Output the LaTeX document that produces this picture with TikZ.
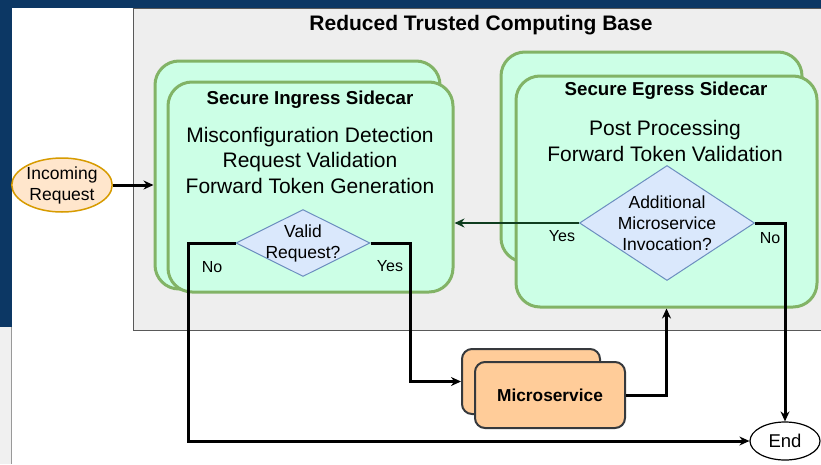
\documentclass[tikz,border=0pt]{standalone}
\usepackage{fontspec}
\setmainfont{Liberation Sans}
\usetikzlibrary{shapes.geometric,arrows.meta}
\definecolor{bgblue}{HTML}{0C3764}
\definecolor{tcbfill}{HTML}{EEEEEE}
\definecolor{sidefill}{HTML}{CCFFE6}
\definecolor{sideline}{HTML}{82B366}
\definecolor{decfill}{HTML}{DAE8FC}
\definecolor{decline}{HTML}{6C8EBF}
\definecolor{msfill}{HTML}{FFCC99}
\definecolor{msline}{HTML}{36393D}
\definecolor{infill}{HTML}{FFE6CC}
\definecolor{inline}{HTML}{D79B00}
\definecolor{yesline}{HTML}{0F3D1F}
\begin{document}
\begin{tikzpicture}[x=1pt,y=-1pt,>={Stealth[length=10pt,width=9pt]}]

      \clip (0,0) rectangle (821,464);
      \fill[white] (0,0) rectangle (821,464);
      \fill[bgblue] (0,0) rectangle (821,8);
      \fill[bgblue] (0,0) rectangle (12,327);
      \fill[gray!12] (0,327) rectangle (11,464);
      \draw[gray!80, line width=1.2pt] (11.5,327) -- (11.5,464);

      \node[draw=black!65, fill=tcbfill, line width=1pt, minimum width=697pt, minimum height=322pt] (tcb) at (481.5,169) {};

      \begin{scope}[every node/.style={draw=sideline, fill=sidefill, line width=3pt, rounded corners=24pt}]
        \node[minimum width=285pt, minimum height=228pt] (ingb) at (297.5,175) {};
        \node[minimum width=285pt, minimum height=210pt] (ing)  at (310.5,187) {};
        \node[minimum width=301pt, minimum height=210pt] (egb)  at (651.5,157) {};
        \node[minimum width=301pt, minimum height=231pt] (eg)   at (666.5,191.5) {};
      \end{scope}

      \begin{scope}[every node/.style={draw=msline, fill=msfill, line width=2pt, rounded corners=10pt}]
        \node[minimum width=138pt, minimum height=65pt] (msb) at (531,381.5) {};
        \node[minimum width=150pt, minimum height=66pt, font=\fontsize{17.3}{21}\selectfont\bfseries] (ms) at (550,395) {Microservice};
      \end{scope}

      \begin{scope}[every node/.style={diamond, draw=decline, fill=decfill, line width=1pt, inner sep=0pt}]
        \node[minimum width=134pt, minimum height=67pt] (valid) at (303,243) {};
        \node[minimum width=175pt, minimum height=115pt] (more)  at (667,223) {};
      \end{scope}

      \begin{scope}[every node/.style={align=center, font=\fontsize{17.5}{21}\selectfont}]
        \node (validtx) at (valid) {Valid\\Request?};
        \node (moretx)  at (more)  {Additional\\Microservice\\Invocation?};
      \end{scope}

      \node[ellipse, draw=inline, fill=infill, line width=1.5pt, minimum width=100pt, minimum height=54pt, inner sep=0pt, align=center, font=\fontsize{17.5}{21}\selectfont] (in) at (62,185) {Incoming\\Request};
      \node[ellipse, draw=black, fill=white, line width=1.2pt, minimum width=70pt, minimum height=38pt, inner sep=0pt, font=\fontsize{18.5}{21}\selectfont] (end) at (785,441) {End};

      \node[font=\fontsize{21}{25}\selectfont\bfseries] (title) at (481,25) {Reduced Trusted Computing Base};

      \begin{scope}[every node/.style={align=center}]
        \node[font=\fontsize{18.7}{22}\selectfont\bfseries] (ingt) at (310,100) {Secure Ingress Sidecar};
        \node[font=\fontsize{21}{25.5}\selectfont] (ingx) at (310,160) {Misconfiguration Detection\\Request Validation\\Forward Token Generation};
        \node[font=\fontsize{18.7}{22}\selectfont\bfseries] (egt) at (666,91) {Secure Egress Sidecar};
        \node[font=\fontsize{21}{26}\selectfont] (egx) at (665,141) {Post Processing\\Forward Token Validation};
      \end{scope}

      \begin{scope}[every node/.style={font=\fontsize{16}{19}\selectfont}]
        \node (vno)  at (212,267) {No};
        \node (vyes) at (390,266) {Yes};
        \node (myes) at (562,236) {Yes};
        \node (mno)  at (770,238) {No};
      \end{scope}

      \begin{scope}[line width=3pt]
        \draw[->] (in) -- (in -| ingb.west);
        \draw[->] (valid.west) -- ++(-47,0) |- (end.west);
        \draw[->] (valid.east) -- ++(40,0) |- (msb.west);
        \draw[->] (ms.east) -| (eg.south);
        \draw[->] (more.east) -| (end.north);
        \draw[->, yesline, line width=2.5pt] (more.west) -- (more.west -| ing.east);
      \end{scope}

    \end{tikzpicture}
\end{document}
